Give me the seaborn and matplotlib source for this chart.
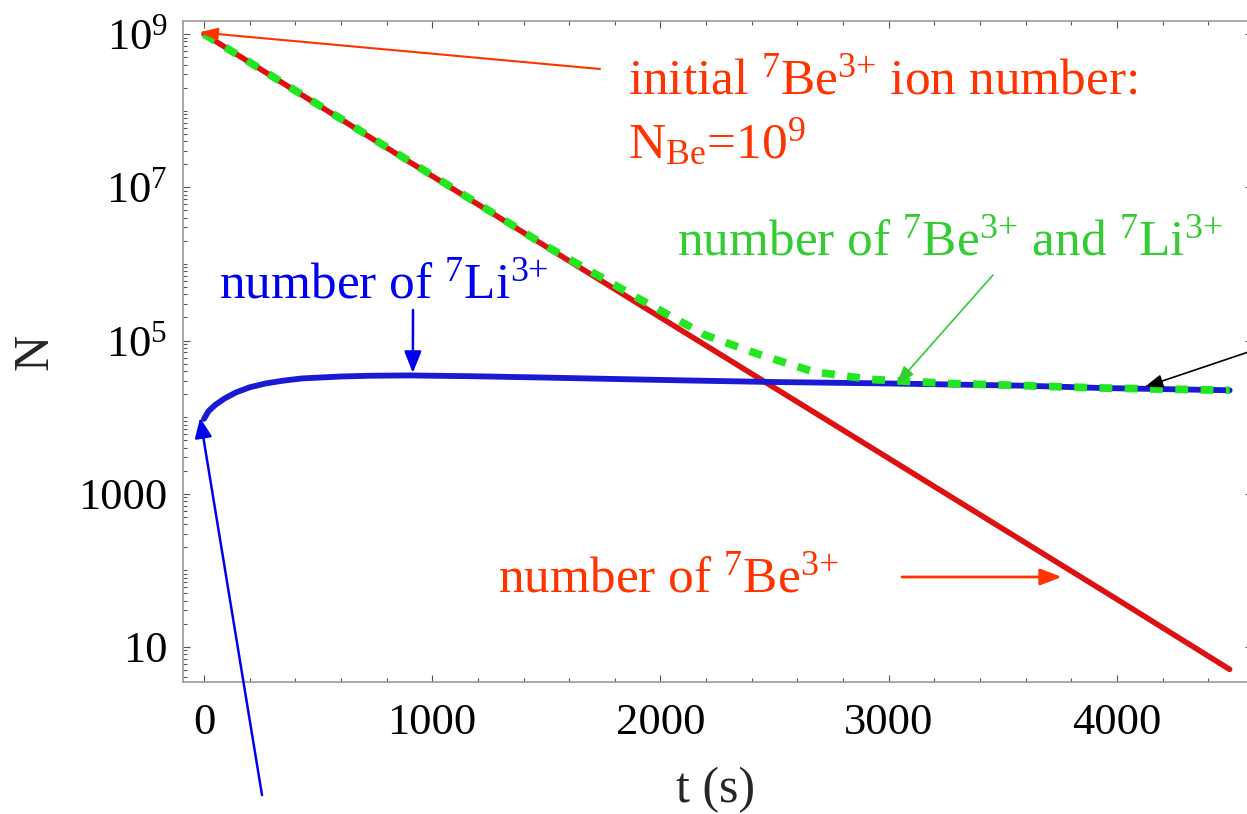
import numpy as np
import matplotlib
matplotlib.use('Agg')
import matplotlib.pyplot as plt
import seaborn as sns
from matplotlib.ticker import FixedLocator, FixedFormatter, LogLocator, NullFormatter, MultipleLocator

# ---- data ----
t_be = [0, 1000, 2000, 3000, 4000, 4494]
n_be = [1.0e9, 1.4e7, 2.0e5, 2.9e3, 42, 5.1]

t_li = [0, 20, 50, 90, 140, 200, 270, 350, 430, 600, 730, 900, 1170, 1500, 2090, 2470, 3000, 3600, 3930, 4494]
n_li = [9.5e3, 1.2e4, 1.45e4, 1.75e4, 2.1e4, 2.45e4, 2.75e4, 3.0e4, 3.2e4, 3.39e4, 3.47e4, 3.5e4,
        3.42e4, 3.28e4, 3.02e4, 2.88e4, 2.75e4, 2.57e4, 2.4e4, 2.24e4]

t_sum = [0, 1000, 1500, 1914, 2198, 2418, 2672, 2926, 3268, 3600, 3930, 4494]
n_sum = [1.0e9, 1.43e7, 1.7e6, 3.4e5, 1.17e5, 6.8e4, 3.9e4, 3.1e4, 2.75e4, 2.57e4, 2.4e4, 2.24e4]

x_ticks = [0, 1000, 2000, 3000, 4000]
x_ticklabels = ['0', '1000', '2000', '3000', '4000']
y_ticks = [10, 1e3, 1e5, 1e7, 1e9]
y_ticklabels = ['10', '1000', r'$10^{5}$', r'$10^{7}$', r'$10^{9}$']

W, H = 1247, 814

sns.set_style('ticks', {'xtick.direction': 'in', 'ytick.direction': 'in'})
plt.rcParams['font.family'] = ['Liberation Serif', 'DejaVu Serif']
plt.rcParams['mathtext.fontset'] = 'custom'
plt.rcParams['mathtext.rm'] = 'Liberation Serif'
plt.rcParams['mathtext.it'] = 'Liberation Serif:italic'
plt.rcParams['mathtext.bf'] = 'Liberation Serif:bold'

fig = plt.figure(figsize=(W / 100, H / 100), dpi=100)
ax = fig.add_axes([183 / W, 1 - 682 / H, (1252 - 183) / W, (682 - 21) / H])
ax.set_yscale('log')

sns.lineplot(x=t_be, y=n_be, color='#dd1111', linewidth=4.0, ax=ax, sort=False)
sns.lineplot(x=t_li, y=n_li, color='#1a1ad2', linewidth=4.2, ax=ax, sort=False)
sns.lineplot(x=t_sum, y=n_sum, color='#22e622', linewidth=5.6, ax=ax, sort=False,
             linestyle=(0, (1.65, 1.6)), dash_capstyle='butt')

ax.set_xlim(-92, 4592)
ax.set_ylim(10 ** 0.543, 10 ** 9.17)

ax.xaxis.set_major_locator(FixedLocator(x_ticks))
ax.xaxis.set_major_formatter(FixedFormatter(x_ticklabels))
ax.xaxis.set_minor_locator(MultipleLocator(200))
ax.yaxis.set_major_locator(FixedLocator(y_ticks))
ax.yaxis.set_major_formatter(FixedFormatter(y_ticklabels))
ax.yaxis.set_minor_locator(LogLocator(base=10, subs=np.arange(1, 10), numticks=60))
ax.yaxis.set_minor_formatter(NullFormatter())

ax.tick_params(which='both', direction='in', top=True, right=True, color='#555555', width=0.8)
ax.tick_params(which='major', length=5, labelsize=32, labelcolor='black')
ax.tick_params(which='minor', length=3)
ax.tick_params(axis='x', which='major', pad=15)
ax.tick_params(axis='y', which='major', pad=11)

for s in ax.spines.values():
    s.set_color('#999999')
    s.set_linewidth(1.2)

ax.set_xlabel('t (s)', fontsize=36)
ax.xaxis.label.set_va('center')
ax.xaxis.set_label_coords(0.498, -0.163)
ax.set_ylabel('N', fontsize=36)
ax.yaxis.label.set_va('center')
ax.yaxis.set_label_coords(-0.138, 0.5)


def fp(x, y):
    return (x, H - y)


red_t = '#ff3300'
blue_t = '#0000ee'
green_t = '#33cc33'

fs = 37
fig.text(628 / W, 1 - 94 / H, 'initial $^{7}$Be$^{3{+}}$ ion number:', color=red_t,
         fontsize=fs, ha='left', va='baseline')
fig.text(628 / W, 1 - 158 / H, 'N$_{\\mathrm{Be}}$=10$^{9}$', color=red_t,
         fontsize=fs, ha='left', va='baseline')
fig.text(677 / W, 1 - 255 / H, 'number of $^{7}$Be$^{3{+}}$ and $^{7}$Li$^{3{+}}$', color=green_t,
         fontsize=fs, ha='left', va='baseline')
fig.text(219 / W, 1 - 298 / H, 'number of $^{7}$Li$^{3{+}}$', color=blue_t,
         fontsize=fs, ha='left', va='baseline')
fig.text(498 / W, 1 - 592 / H, 'number of $^{7}$Be$^{3{+}}$', color=red_t,
         fontsize=fs, ha='left', va='baseline')


def arrow(tip, tail, color, lw, hl, hw):
    ax.annotate('', xy=tip, xycoords='data', xytext=fp(*tail), textcoords='figure pixels',
                annotation_clip=False,
                arrowprops=dict(arrowstyle=f'-|>,head_length={hl},head_width={hw}',
                                mutation_scale=1, color=color, lw=lw,
                                shrinkA=0, shrinkB=0))


arrow((-20, 1.05e9), (600, 69), red_t, 1.5, 11, 3.8)
arrow((3758, 82), (902, 577), red_t, 2.0, 13, 5.0)
arrow((915, 3.78e4), (413, 310), blue_t, 1.8, 13, 5.2)
arrow((-17, 9.8e3), (262, 795), blue_t, 1.8, 12, 5.2)
arrow((3035, 2.71e4), (993, 275), green_t, 1.2, 11, 4.0)
arrow((4122, 2.48e4), (1290, 338), 'black', 1.2, 11, 4.0)

fig.savefig('out.png', dpi=100)
